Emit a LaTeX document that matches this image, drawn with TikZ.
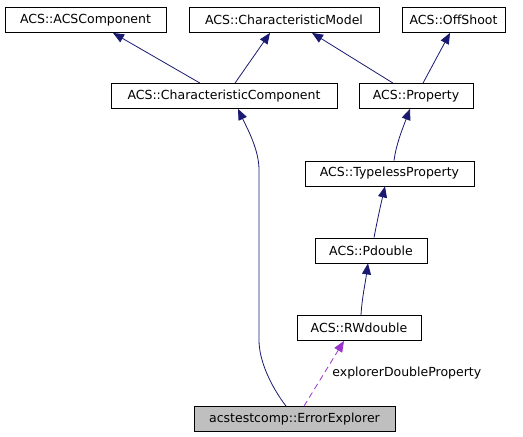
\documentclass[tikz,border=0pt]{standalone}
\usepackage{fontspec}
\setmainfont{DejaVu Sans}
\usetikzlibrary{arrows.meta}
\definecolor{edgeblue}{RGB}{25,25,112}
\definecolor{usepurple}{RGB}{154,50,205}
\definecolor{boxgray}{RGB}{191,191,191}
\begin{document}
\begin{tikzpicture}[x=1pt,y=-1pt,
  cls/.style={draw=black,fill=white,line width=0.8pt,inner sep=0pt,minimum height=25pt,font=\fontsize{12.5}{15}\selectfont},
  self/.style={cls,fill=boxgray},
  inherit/.style={draw=edgeblue,line width=0.8pt,-{Triangle[length=11pt,width=9pt]}},
  uses/.style={draw=usepurple,line width=0.8pt,dash pattern=on 6pt off 4pt,-{Triangle[length=11pt,width=9pt]}},
  lbl/.style={inner sep=0pt,font=\fontsize{12.5}{15}\selectfont}]
\useasboundingbox (0,0) rectangle (523,437);
\node[cls,minimum width=161pt] (acscomp) at (85.5,20) {ACS::ACSComponent};
\node[cls,minimum width=190pt] (charmodel) at (284,20) {ACS::CharacteristicModel};
\node[cls,minimum width=103pt] (offshoot) at (453.5,20) {ACS::OffShoot};
\node[cls,minimum width=226pt] (charcomp) at (224,96) {ACS::CharacteristicComponent};
\node[cls,minimum width=114pt] (property) at (416,96) {ACS::Property};
\node[cls,minimum width=169pt] (typeless) at (389.5,173.5) {ACS::TypelessProperty};
\node[cls,minimum width=112pt] (pdouble) at (371,250.5) {ACS::Pdouble};
\node[cls,minimum width=124pt] (rwdouble) at (359,328) {ACS::RWdouble};
\node[self,minimum width=201pt] (errexp) at (294.5,419) {acstestcomp::ErrorExplorer};
% inheritance
\draw[inherit] ([xshift=-24pt]charcomp.north) -- ([xshift=27.5pt]acscomp.south);
\draw[inherit] ([xshift=11pt]charcomp.north) -- ([xshift=-14pt]charmodel.south);
\draw[inherit] ([xshift=-23pt]property.north) -- ([xshift=28pt]charmodel.south);
\draw[inherit] ([xshift=7pt]property.north) -- ([xshift=-3.5pt]offshoot.south);
\draw[inherit] ([xshift=4.5pt]typeless.north) .. controls (396,145) and (402,130) .. ([xshift=-6pt]property.south);
\draw[inherit] ([xshift=3pt]pdouble.north) .. controls (377,222) and (380,208) .. ([xshift=-4.5pt]typeless.south);
\draw[inherit] ([xshift=2pt]rwdouble.north) .. controls (362,298) and (365,285) .. ([xshift=-3pt]pdouble.south);
\draw[inherit] ([xshift=-8.5pt]errexp.north) .. controls (270,385) and (259,360) .. (259,340)
  -- (259,170) .. controls (259,150) and (248,130) .. ([xshift=14pt]charcomp.south);
% member
\draw[uses] ([xshift=9.5pt]errexp.north) -- ([xshift=-15pt]rwdouble.south)
  node[lbl,pos=0.5,anchor=west,xshift=8pt] (memlbl) {explorerDoubleProperty};
\end{tikzpicture}
\end{document}
